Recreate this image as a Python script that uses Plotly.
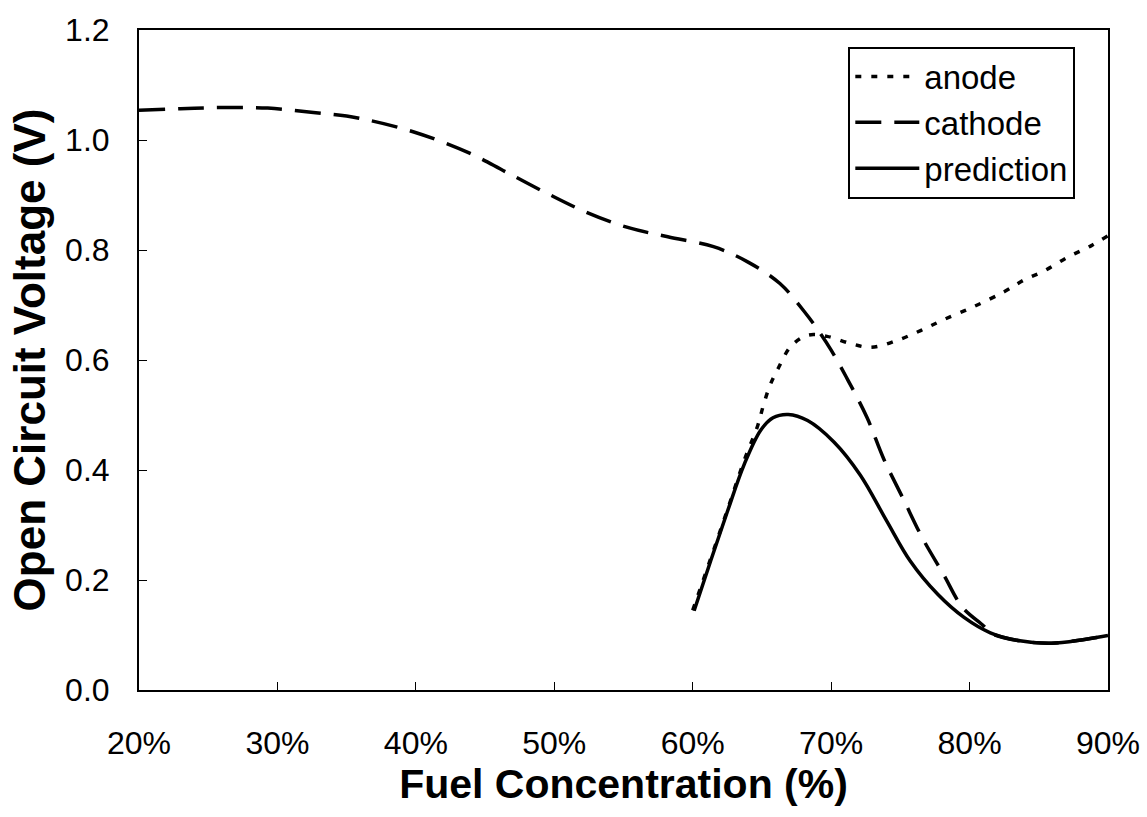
import plotly.graph_objects as go

# Fuel concentration (%) and open circuit voltage (V)
anode_x = [60, 61.3, 62.5, 63.7, 64.7, 65.1, 65.6, 66.2, 67.1, 68.3, 69.7, 71.4, 72.9,
           74.8, 76.5, 78.1, 80.3, 82.5, 83.9, 85.4, 87.1, 88.8, 90]
anode_y = [0.145, 0.239, 0.327, 0.416, 0.481, 0.517, 0.555, 0.586, 0.625, 0.645, 0.643, 0.630,
           0.623, 0.636, 0.654, 0.673, 0.697, 0.724, 0.745, 0.762, 0.787, 0.808, 0.826]

cathode_x = [20, 23, 26, 29.3, 32.6, 35.8, 39.8, 43.8, 46.5, 49.4, 52.2, 55.3, 58.2, 61.5, 64,
             66.3, 68, 69.2, 70, 71.2, 72.6, 73.8, 75.2, 76.6, 78.1, 79.5, 81, 81.5, 83.5,
             85.9, 88.3, 90]
cathode_y = [1.054, 1.057, 1.059, 1.058, 1.050, 1.040, 1.015, 0.977, 0.942, 0.904, 0.870, 0.841,
             0.824, 0.806, 0.778, 0.739, 0.690, 0.649, 0.618, 0.564, 0.495, 0.420, 0.348, 0.276,
             0.211, 0.150, 0.117, 0.104, 0.090, 0.085, 0.092, 0.099]

pred_x = [60.1, 61.3, 62.5, 63.7, 64.9, 65.8, 66.9, 68.3, 70.2, 72.1, 74.0, 75.7, 77.7, 79.6,
          81.5, 83.5, 85.9, 88.3, 90]
pred_y = [0.144, 0.235, 0.324, 0.409, 0.472, 0.495, 0.501, 0.490, 0.451, 0.391, 0.308, 0.235,
          0.174, 0.132, 0.104, 0.090, 0.085, 0.092, 0.099]

x_ticks = [20, 30, 40, 50, 60, 70, 80, 90]
x_labels = ["20%", "30%", "40%", "50%", "60%", "70%", "80%", "90%"]
y_ticks = [0.0, 0.2, 0.4, 0.6, 0.8, 1.0, 1.2]
y_labels = ["0.0", "0.2", "0.4", "0.6", "0.8", "1.0", "1.2"]

FONT = "Liberation Sans, Arial, sans-serif"

fig = go.Figure()
fig.add_trace(go.Scatter(x=anode_x, y=anode_y, name="anode", mode="lines",
                         line=dict(color="black", width=3.5, dash="6px,10px", shape="spline")))
fig.add_trace(go.Scatter(x=cathode_x, y=cathode_y, name="cathode", mode="lines",
                         line=dict(color="black", width=3.5, dash="26px,13px", shape="spline")))
fig.add_trace(go.Scatter(x=pred_x, y=pred_y, name="prediction", mode="lines",
                         line=dict(color="black", width=3.5, shape="spline")))

fig.update_layout(
    width=1147, height=817,
    margin=dict(l=139, r=39, t=24, b=127),
    paper_bgcolor="white", plot_bgcolor="white",
    font=dict(family=FONT, color="black", size=32),
    showlegend=True,
    legend=dict(x=0.732, y=0.975, xanchor="left", yanchor="top",
                bordercolor="black", borderwidth=2, bgcolor="white",
                itemwidth=64, font=dict(size=33, family=FONT), tracegroupgap=0),
    xaxis=dict(range=[20, 90], tickmode="array", tickvals=x_ticks, ticktext=x_labels,
               showgrid=False, zeroline=False, automargin=False,
               showline=True, linecolor="black", linewidth=2, mirror=True,
               ticks="inside", ticklen=8, tickwidth=1, tickcolor="black",
               tickfont=dict(size=32), ticklabelstandoff=24,
               title=dict(text="<b>Fuel Concentration (%)</b>", font=dict(size=41), standoff=6)),
    yaxis=dict(range=[0, 1.2], tickmode="array", tickvals=y_ticks, ticktext=y_labels,
               showgrid=False, zeroline=False,
               showline=True, linecolor="black", linewidth=2, mirror=True,
               ticks="inside", ticklen=8, tickwidth=1, tickcolor="black",
               tickfont=dict(size=32), ticklabelstandoff=21,
               title=dict(text="<b>Open Circuit Voltage (V)</b>", font=dict(size=44), standoff=6)),
)

fig.write_html("out.html")
